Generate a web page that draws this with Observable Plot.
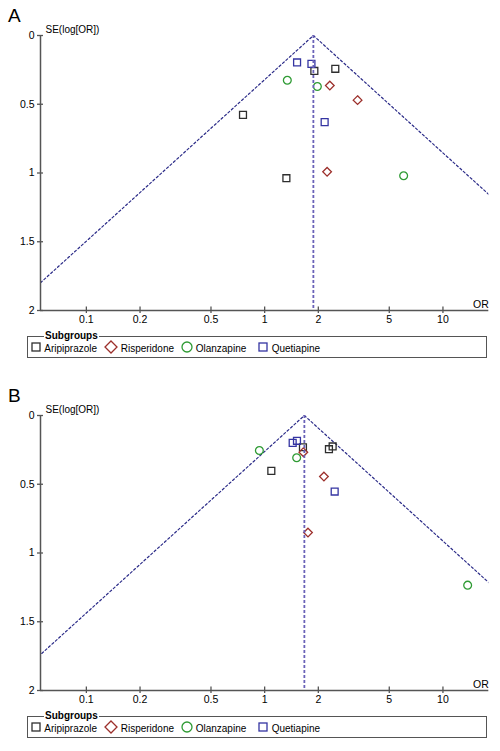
<!DOCTYPE html>
<html><head><meta charset="utf-8">
<script src="https://cdn.jsdelivr.net/npm/d3@7"></script>
<script src="https://cdn.jsdelivr.net/npm/@observablehq/plot@0.6"></script>
<style>
body{margin:0;background:#fff;font-family:"Liberation Sans",Arial,sans-serif;}
#root{position:relative;width:500px;height:751px;overflow:hidden;}
.panel{position:absolute;left:0;width:500px;height:372px;}
.panel svg{position:absolute;left:0;top:0;}
.plab{position:absolute;left:8px;font-size:19px;line-height:22px;color:#000;}
.leg{position:absolute;left:27px;top:336px;width:458px;height:20px;border:1.5px solid #555;}
.legtitle{position:absolute;left:44px;top:330px;font-size:10px;line-height:12px;font-weight:bold;background:#fff;padding:0 1px;color:#000;}
.legtxt{position:absolute;top:342.5px;font-size:10px;line-height:12px;color:#000;white-space:nowrap;}
.legsym{position:absolute;}
</style>
</head><body><div id="root"></div>
<script>
// ---- shared categories / styles ----
const drugs = ["Aripiprazole","Risperidone","Olanzapine","Quetiapine"];
const drugColors = ["#2e2e2e","#9c2f2b","#2f9b34","#3535a2"];
const drugSymbols = ["square","diamond2","circle","square"];
const xTicks = [0.1,0.2,0.5,1,2,5,10];
const xTickLabels = ["0.1","0.2","0.5","1","2","5","10"];
const yTicks = [0,0.5,1,1.5,2];
const yTickLabels = ["0","0.5","1","1.5","2"];
const xDomain = [0.0553, 18.08];
const yDomain = [0, 2];
const z = 1.96;

// ---- panel A ----
const aDrug = ["Aripiprazole","Aripiprazole","Aripiprazole","Aripiprazole",
  "Risperidone","Risperidone","Risperidone",
  "Olanzapine","Olanzapine","Olanzapine",
  "Quetiapine","Quetiapine","Quetiapine"];
const aOR = [1.90,2.49,0.756,1.324, 2.32,3.32,2.24, 1.34,1.975,6.02, 1.52,1.83,2.17];
const aSE = [0.258,0.242,0.577,1.038, 0.364,0.47,0.991, 0.325,0.371,1.02, 0.196,0.206,0.63];
const aPooled = 1.876;

// ---- panel B ----
const bDrug = ["Aripiprazole","Aripiprazole","Aripiprazole","Aripiprazole",
  "Risperidone","Risperidone","Risperidone",
  "Olanzapine","Olanzapine","Olanzapine",
  "Quetiapine","Quetiapine","Quetiapine"];
const bOR = [1.64,2.294,2.406,1.09, 1.648,2.15,1.75, 0.934,1.512,13.76, 1.436,1.518,2.47];
const bSE = [0.231,0.245,0.225,0.403, 0.267,0.444,0.851, 0.2545,0.307,1.234, 0.199,0.184,0.553];
const bPooled = 1.67;

const axisColor = "#555";

function makePlot(drugArr, orArr, seArr, pooled) {
  const data = orArr.map((o, i) => ({or: o, se: seArr[i], drug: drugArr[i]}));
  const seMax = yDomain[1];
  const funnel = [
    {or: pooled * Math.exp(-z * seMax), se: seMax, side: "L"},
    {or: pooled, se: 0, side: "L"},
    {or: pooled, se: 0, side: "R"},
    {or: pooled * Math.exp(z * seMax), se: seMax, side: "R"}
  ];
  return Plot.plot({
    width: 500, height: 330,
    marginLeft: 40, marginRight: 11.7, marginTop: 35, marginBottom: 20,
    style: {fontFamily: "'Liberation Sans', Arial, sans-serif", fontSize: "10px", color: "#000", background: "transparent"},
    x: {type: "log", domain: xDomain, axis: null},
    y: {domain: yDomain, reverse: true, axis: null},
    color: {domain: drugs, range: drugColors},
    symbol: {domain: drugs, range: drugSymbols},
    marks: [
      Plot.line(funnel, {x: "or", y: "se", z: "side", stroke: "#2b2b88", strokeWidth: 1.2, strokeDasharray: "2.2,2.4", clip: true}),
      Plot.dot(data, {x: "or", y: "se", stroke: "drug", symbol: "drug", r: 3.9, strokeWidth: 1.3, fill: "none"}),
      Plot.ruleX([pooled], {y1: 0, y2: seMax, stroke: "#6a62b8", strokeWidth: 1.8, strokeDasharray: "3,2"}),
      // axis lines
      Plot.ruleX([xDomain[0]], {y1: yDomain[0], y2: yDomain[1], stroke: axisColor, strokeWidth: 1.5}),
      Plot.ruleY([yDomain[1]], {x1: xDomain[0], x2: xDomain[1], stroke: axisColor, strokeWidth: 1.5}),
      // crossing ticks
      Plot.ruleY(yTicks, {y: d => d, x1: xDomain[0], x2: xDomain[0], insetLeft: -3, insetRight: -3, stroke: axisColor, strokeWidth: 1.3}),
      Plot.ruleX(xTicks, {x: d => d, y1: yDomain[1], y2: yDomain[1], insetTop: -3.5, insetBottom: -3, stroke: axisColor, strokeWidth: 1.3}),
      // tick labels
      Plot.text(yTicks, {y: d => d, text: (d, i) => yTickLabels[i], frameAnchor: "left", dx: -6, textAnchor: "end", lineAnchor: "middle", fontSize: 10.5}),
      Plot.text(xTicks, {x: d => d, text: (d, i) => xTickLabels[i], frameAnchor: "bottom", dy: 5, textAnchor: "middle", lineAnchor: "top", fontSize: 10.5}),
      Plot.text(["SE(log[OR])"], {frameAnchor: "top-left", dx: 5, dy: -3, lineAnchor: "bottom", textAnchor: "start", fontSize: 10}),
      Plot.text(["OR"], {frameAnchor: "bottom-right", dx: 0, dy: -2.5, lineAnchor: "bottom", textAnchor: "end", fontSize: 10.5})
    ]
  });
}

function symSvg(kind, color, size) {
  const h = size / 2;
  let shape;
  if (kind === "square") shape = `<rect x="1" y="1" width="${size-2}" height="${size-2}" fill="none" stroke="${color}" stroke-width="1.3"/>`;
  else if (kind === "circle") shape = `<circle cx="${h}" cy="${h}" r="${h-1}" fill="none" stroke="${color}" stroke-width="1.3"/>`;
  else shape = `<path d="M${h},1L${size-1},${h}L${h},${size-1}L1,${h}Z" fill="none" stroke="${color}" stroke-width="1.3"/>`;
  return `<svg width="${size}" height="${size}" style="display:block">${shape}</svg>`;
}

const legSymX = [35.5, 110.8, 187, 262.5];
const legSymSize = [10, 14, 12, 10];
const legTxtX = [44.3, 120.7, 195.7, 271.7];

function makePanel(label, top, drugArr, orArr, seArr, pooled) {
  const root = document.getElementById("root");
  const p = document.createElement("div");
  p.className = "panel";
  p.style.top = top + "px";
  p.appendChild(makePlot(drugArr, orArr, seArr, pooled));
  const lab = document.createElement("div");
  lab.className = "plab"; lab.style.top = "5px"; lab.textContent = label;
  p.appendChild(lab);
  const box = document.createElement("div"); box.className = "leg"; p.appendChild(box);
  const t = document.createElement("div"); t.className = "legtitle"; t.textContent = "Subgroups"; p.appendChild(t);
  drugs.forEach((d, i) => {
    const s = document.createElement("div"); s.className = "legsym";
    const sz = legSymSize[i];
    s.style.left = (legSymX[i] - sz / 2) + "px";
    s.style.top = (347 - sz / 2) + "px";
    s.innerHTML = symSvg(drugSymbols[i] === "diamond2" ? "diamond" : drugSymbols[i], drugColors[i], sz);
    p.appendChild(s);
    const tx = document.createElement("div"); tx.className = "legtxt";
    tx.style.left = legTxtX[i] + "px"; tx.textContent = d;
    p.appendChild(tx);
  });
  root.appendChild(p);
}

makePanel("A", 0, aDrug, aOR, aSE, aPooled);
makePanel("B", 380, bDrug, bOR, bSE, bPooled);
</script>
</body></html>
